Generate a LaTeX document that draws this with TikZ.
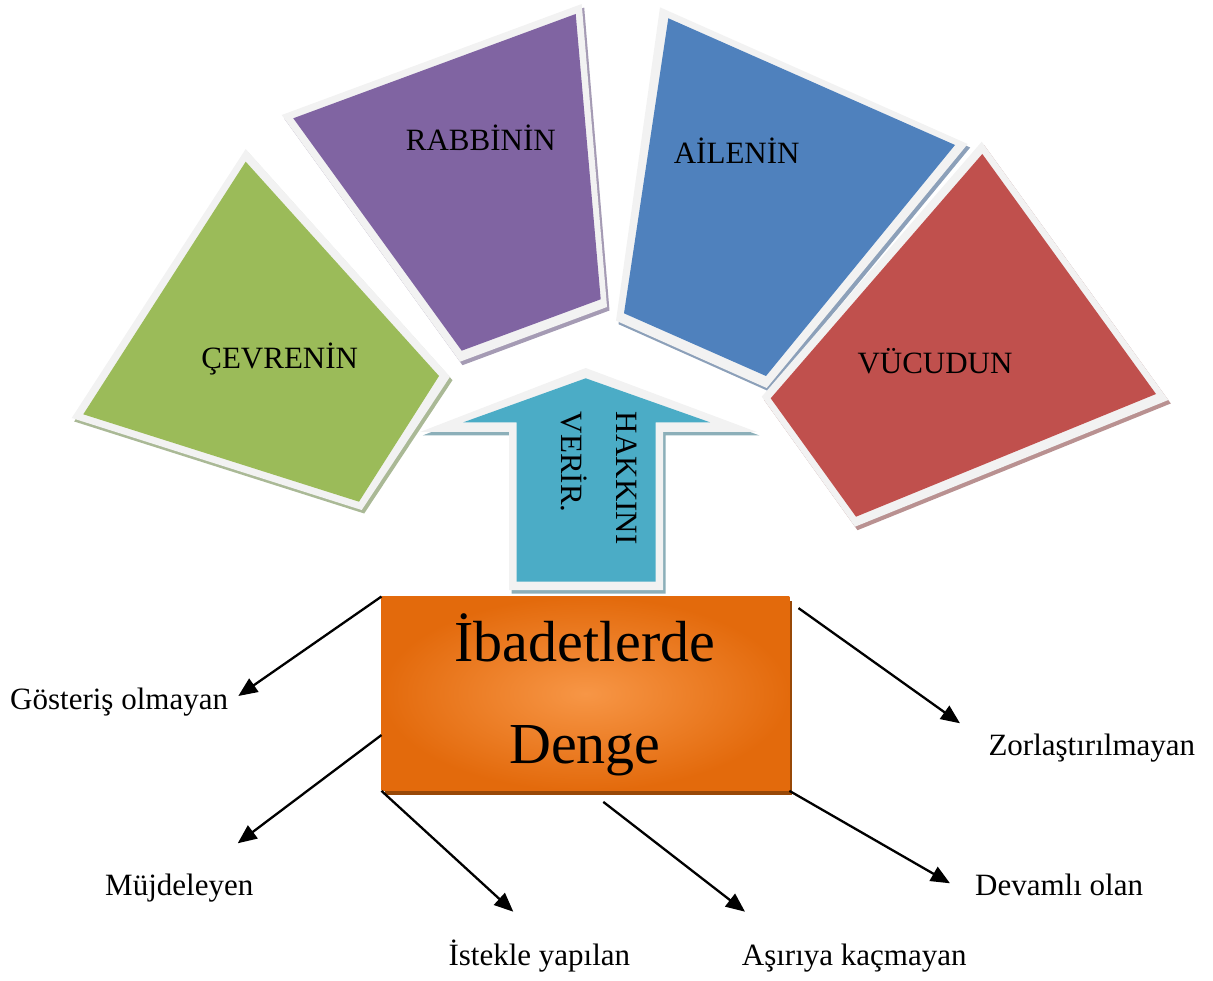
\documentclass[tikz,border=0pt]{standalone}
\usepackage{fontspec}
\setmainfont{Liberation Serif}
\usetikzlibrary{arrows.meta,calc}
\definecolor{bord}{HTML}{F2F2F2}
\definecolor{cgreen}{HTML}{9BBB59}
\definecolor{cpurple}{HTML}{8064A2}
\definecolor{cblue}{HTML}{4F81BD}
\definecolor{cred}{HTML}{C0504D}
\definecolor{caqua}{HTML}{4BACC6}
\definecolor{corange}{HTML}{E36A0C}
\definecolor{corangein}{HTML}{F79646}
\definecolor{sgreen}{HTML}{AAB996}
\definecolor{spurple}{HTML}{A59BB4}
\definecolor{sblue}{HTML}{8CA0B9}
\definecolor{sred}{HTML}{B99191}
\definecolor{saqua}{HTML}{8CAFB9}
\definecolor{sorange}{HTML}{984807}
\begin{document}
\begin{tikzpicture}[x=1pt,y=-1pt,
  lbl/.style={font=\fontsize{31}{37}\selectfont, inner sep=0pt, anchor=base west},
  shapelbl/.style={font=\fontsize{31}{37}\selectfont, inner sep=0pt, anchor=base},
  titlelbl/.style={font=\fontsize{58}{70}\selectfont, inner sep=0pt, anchor=base},
  conn/.style={line width=2.3pt, -{Triangle[length=19pt,width=16pt]}},
  shadowoff/.style={shift={(2.5,3.5)}}]
\useasboundingbox (0,0) rectangle (1213,981);

% arrow (up)
\fill[saqua,shadowoff] (585.7,368) -- (757,432) -- (663,432) -- (663,590) -- (509,590) -- (509,432) -- (420,432) -- cycle;
\fill[bord] (585.7,368) -- (757,432) -- (663,432) -- (663,590) -- (509,590) -- (509,432) -- (420,432) -- cycle;
\fill[caqua] (585.7,378.3) -- (710,422.3) -- (655.7,422.3) -- (655.7,581.7) -- (516.7,581.7) -- (516.7,422.3) -- (463.3,422.3) -- cycle;
\node[rotate=-90, inner sep=0pt, anchor=base west, font=\fontsize{31}{37}\selectfont] (hak) at (616.7,411.7) {HAKKINI};
\node[rotate=-90, inner sep=0pt, anchor=base west, font=\fontsize{31}{37}\selectfont] (ver) at (561.7,411.7) {VERİR.};

% green
\fill[sgreen,shadowoff] (245.7,149) -- (450,376.7) -- (361.7,510) -- (71.7,418) -- cycle;
\fill[bord] (245.7,149) -- (450,376.7) -- (361.7,510) -- (71.7,418) -- cycle;
\fill[cgreen] (245.7,161.7) -- (439,376) -- (359,501.7) -- (83.3,414.3) -- cycle;
\node[shapelbl] (cev) at (279.7,368.3) {ÇEVRENİN};

% purple
\fill[spurple,shadowoff] (581.7,4) -- (607,307) -- (460,361.7) -- (281.7,115) -- cycle;
\fill[bord] (581.7,4) -- (607,307) -- (460,361.7) -- (281.7,115) -- cycle;
\fill[cpurple] (575.7,14) -- (600.7,299.3) -- (461.7,350.7) -- (293.3,118.3) -- cycle;
\node[shapelbl] (rab) at (480.8,150.7) {RABBİNİN};

% blue
\fill[sblue,shadowoff] (660,7.3) -- (967.7,144) -- (766.7,388) -- (616,320.7) -- cycle;
\fill[bord] (660,7.3) -- (967.7,144) -- (766.7,388) -- (616,320.7) -- cycle;
\fill[cblue] (668.3,18.3) -- (955,145) -- (766,376) -- (624,313.3) -- cycle;
\node[shapelbl] (ail) at (736.7,163.3) {AİLENİN};

% red
\fill[sred,shadowoff] (981.7,141.7) -- (1168.3,400) -- (855,526.7) -- (761.7,396.7) -- cycle;
\fill[bord] (981.7,141.7) -- (1168.3,400) -- (855,526.7) -- (761.7,396.7) -- cycle;
\fill[cred] (982.3,154) -- (1156,394) -- (856,516.7) -- (770.7,398.3) -- cycle;
\node[shapelbl] (vuc) at (935,373.3) {VÜCUDUN};

% central box
\fill[sorange] (384.7,600.7) rectangle (792.3,794.7);
\node[draw=none, inner sep=0pt, minimum width=407.6pt, minimum height=194pt,
      shading=radial, inner color=corangein, outer color=corange] (rect) at (585.5,693.7) {};
\node[titlelbl] (t1) at (585,661.7) {İbadetlerde};
\node[titlelbl] (t2) at (585,763.3) {Denge};

% labels
\node[lbl] (l1) at (10,709) {Gösteriş olmayan};
\node[lbl] (l2) at (988.3,755) {Zorlaştırılmayan};
\node[lbl] (l3) at (105,895) {Müjdeleyen};
\node[lbl] (l4) at (448.3,965) {İstekle yapılan};
\node[lbl] (l5) at (741.7,965) {Aşırıya kaçmayan};
\node[lbl] (l6) at (975,895) {Devamlı olan};

% arrow tips
\coordinate (e1) at (238.3,696);
\coordinate (e2) at (960,723.3);
\coordinate (e3) at (237.7,843.3);
\coordinate (e4) at (513.3,911.7);
\coordinate (e5) at (745,911.7);
\coordinate (e6) at (950,883.3);

\draw[conn] (rect.north west) -- (e1);
\draw[conn] ($(rect.north east)+(9,11.6)$) -- (e2);
\draw[conn] ($(rect.west)+(0,41.3)$) -- (e3);
\draw[conn] (rect.south west) -- (e4);
\draw[conn] ($(rect.south)+(17.8,11)$) -- (e5);
\draw[conn] (rect.south east) -- (e6);
\end{tikzpicture}
\end{document}
